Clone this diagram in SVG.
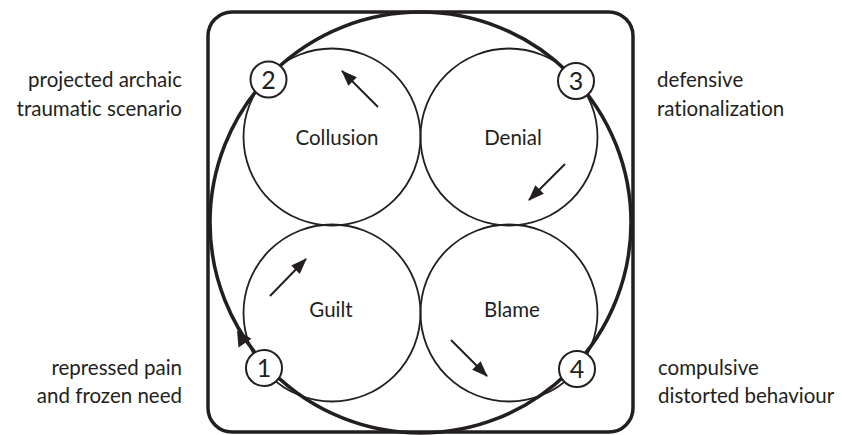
<svg xmlns="http://www.w3.org/2000/svg" width="842" height="435" viewBox="0 0 842 435">
<defs>
<style>
.lbl{font-family:Lato,"Open Sans","Liberation Sans",sans-serif;font-size:20.5px;fill:#231f20;font-variant-ligatures:none}
.num{font-family:Lato,"Open Sans","Liberation Sans",sans-serif;font-size:25px;fill:#231f20;text-anchor:middle}
.node{fill:none;stroke:#231f20;stroke-width:1.8}
.badge{fill:#fff;stroke:#231f20;stroke-width:2}
.arr{stroke:#231f20;stroke-width:2;fill:none;marker-end:url(#ah)}
</style>
<marker id="ah" markerWidth="8" markerHeight="6" refX="7.5" refY="3" orient="auto" markerUnits="strokeWidth">
<path d="M0,0 L8,3 L0,6 Z" fill="#231f20"/>
</marker>
</defs>
<rect width="842" height="435" fill="#fff"/>
<rect x="208" y="12" width="425" height="420" rx="24" fill="none" stroke="#231f20" stroke-width="3.5"/>
<g id="cycle">
<circle cx="420.5" cy="222.5" r="210.5" fill="none" stroke="#231f20" stroke-width="3.5"/>
<polygon points="237,330.5 251.5,338.7 238.5,347.5" fill="#231f20"/>
</g>
<g id="collusion"><circle class="node" cx="332" cy="137" r="88.5"/><text class="lbl" x="337" y="145" text-anchor="middle">Collusion</text></g>
<g id="denial"><circle class="node" cx="509" cy="137" r="88.5"/><text class="lbl" x="513" y="145" text-anchor="middle">Denial</text></g>
<g id="guilt"><circle class="node" cx="332" cy="313" r="88.5"/><text class="lbl" x="331" y="317" text-anchor="middle">Guilt</text></g>
<g id="blame"><circle class="node" cx="509" cy="313" r="88.5"/><text class="lbl" x="512" y="317" text-anchor="middle">Blame</text></g>
<g id="connectors">
<line class="arr" x1="378" y1="107" x2="342" y2="71"/>
<line class="arr" x1="565" y1="164" x2="529" y2="200"/>
<line class="arr" x1="270" y1="296" x2="306" y2="259"/>
<line class="arr" x1="451" y1="340" x2="487" y2="376"/>
</g>
<g id="n2"><circle class="badge" cx="268.5" cy="79.5" r="18"/><text class="num" x="268.5" y="88.5">2</text></g>
<g id="n3"><circle class="badge" cx="576" cy="81" r="18"/><text class="num" x="576" y="90">3</text></g>
<g id="n1"><circle class="badge" cx="264" cy="368" r="18"/><text class="num" x="264" y="377">1</text></g>
<g id="n4"><circle class="badge" cx="577" cy="369" r="18"/><text class="num" x="577" y="378">4</text></g>
<g id="labels">
<text class="lbl" x="182" y="87" text-anchor="end">projected archaic</text>
<text class="lbl" x="182" y="116" text-anchor="end">traumatic scenario</text>
<text class="lbl" x="657" y="87">defensive</text>
<text class="lbl" x="657" y="116">rationalization</text>
<text class="lbl" x="182" y="375" text-anchor="end">repressed pain</text>
<text class="lbl" x="182" y="403" text-anchor="end">and frozen need</text>
<text class="lbl" x="658" y="375">compulsive</text>
<text class="lbl" x="658" y="403">distorted behaviour</text>
</g>
</svg>
